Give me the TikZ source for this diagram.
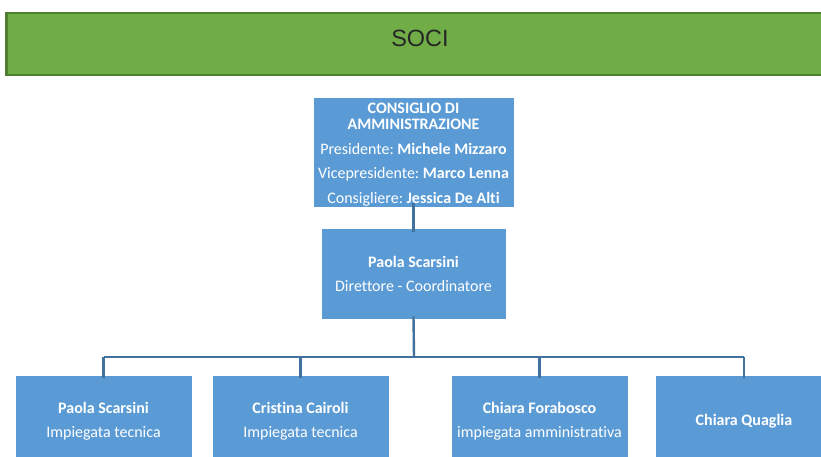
\documentclass[tikz,border=0pt]{standalone}
\usepackage{fontspec}
\setmainfont[Ligatures=NoCommon]{Carlito}
\newfontfamily\socifont{Liberation Sans}
\definecolor{barfill}{HTML}{70AD47}
\definecolor{barline}{HTML}{507E32}
\definecolor{boxfill}{HTML}{5B9BD5}
\definecolor{connline}{HTML}{41719C}
\tikzset{
  orgbox/.style={rectangle, fill=boxfill, draw=white, line width=0.6pt, text=white,
    align=center, inner sep=0pt, font=\fontsize{16}{16}\selectfont\frenchspacing},
  orgtext/.style={text=white, align=center, inner sep=0pt, font=\fontsize{16}{16}\selectfont\frenchspacing},
  conn/.style={draw=connline, line width=2.4pt},
}
\begin{document}
\begin{tikzpicture}[x=1pt,y=-1pt]
\useasboundingbox (0,0) rectangle (821,457);
\clip (0,0) rectangle (821,457);
\fill[white] (0,0) rectangle (821,457);
% SOCI bar
\node[rectangle, fill=barfill, draw=barline, line width=2.5pt, minimum width=840pt,
  minimum height=62pt, anchor=north west, inner sep=0pt] (soci) at (5,12) {};
\node[font=\socifont\fontsize{23.5}{28}\selectfont, text=black!85, inner sep=0pt] (socitext) at (420,38) {SOCI};
% CdA
\node[orgbox, minimum width=201pt, minimum height=110pt] (cda) at (413.5,152) {};
\node[orgtext] (cdatext) at (413.5,154.5)
 {\textbf{CONSIGLIO DI}\\\textbf{AMMINISTRAZIONE}\\[9pt]
  Presidente: \textbf{Michele Mizzaro}\\[8.5pt]
  Vicepresidente: \textbf{Marco Lenna}\\[9pt]
  Consigliere: \textbf{Jessica De Alti}};
% Director
\node[orgbox, minimum width=185pt, minimum height=91pt] (dir) at (413.5,273.5)
 {\textbf{Paola Scarsini}\\[8pt]Direttore - Coordinatore};
% Bottom row
\node[orgbox, minimum width=177pt, minimum height=91pt, anchor=north] (b1) at (103.5,375)
 {\textbf{Paola Scarsini}\\[8pt]Impiegata tecnica};
\node[orgbox, minimum width=177pt, minimum height=91pt, anchor=north] (b2) at (300.5,375)
 {\textbf{Cristina Cairoli}\\[8pt]Impiegata tecnica};
\node[orgbox, minimum width=177pt, minimum height=91pt, anchor=north] (b3) at (539.5,375)
 {\textbf{Chiara Forabosco}\\[8pt]impiegata amministrativa};
\node[orgbox, minimum width=177pt, minimum height=91pt, anchor=north] (b4) at (744,375)
 {\textbf{Chiara Quaglia}};
% connectors
\coordinate (bus) at (414,357);
\draw[conn] ([yshift=4pt]cda.south) -- ([yshift=-4pt]dir.north);
\draw[conn] ([yshift=3pt]dir.south) -- (bus);
\draw[conn] (b1.north |- bus) -- (b4.north |- bus);
\foreach \b in {b1,b2,b3,b4}{
  \draw[conn] (\b.north |- bus) -- ([yshift=-3pt]\b.north);
}
\end{tikzpicture}
\end{document}
